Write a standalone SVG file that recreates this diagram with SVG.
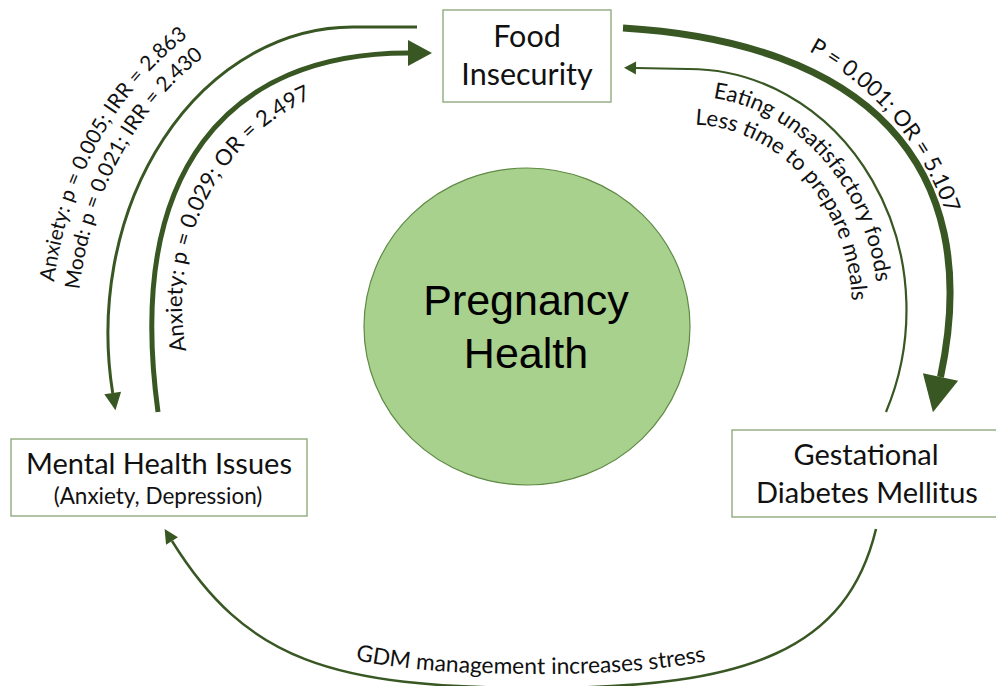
<svg xmlns="http://www.w3.org/2000/svg" width="996" height="686" viewBox="0 0 996 686">
  <style>
    .box { fill: #ffffff; stroke: #8faa7c; stroke-width: 1.4; }
    .boxtxt { font-family: Lato, "Open Sans", sans-serif; font-size: 29px; fill: #111111; text-anchor: middle; }
    .boxtxt.big { font-size: 30.5px; }
    .subtxt { font-family: Lato, "Open Sans", sans-serif; font-size: 22.5px; fill: #111111; text-anchor: middle; }
    .hub { fill: #a9d18e; stroke: #5f8a45; stroke-width: 1.2; }
    .hubtxt { font-family: "Liberation Sans", Arial, sans-serif; font-size: 43px; fill: #000000; text-anchor: middle; }
    .link { fill: none; stroke: #385723; stroke-linecap: butt; }
    .lbl { font-family: Lato, "Open Sans", sans-serif; font-size: 22.2px; fill: #111111; }
    .lbl.sm { font-size: 20.8px; }
    .lbl.lg { font-size: 22.8px; }
    .ah { fill: #385723; }
  </style>
  <defs>
    <marker id="ahSmall" markerUnits="userSpaceOnUse" markerWidth="1" markerHeight="1" refX="0" refY="0" orient="auto" overflow="visible">
      <path class="ah" d="M0,-8.5 L17.5,0 L0,8.5 Z"/>
    </marker>
    <marker id="ahMedium" markerUnits="userSpaceOnUse" markerWidth="1" markerHeight="1" refX="0" refY="0" orient="auto" overflow="visible">
      <path class="ah" d="M0,-13 L24,0 L0,13 Z"/>
    </marker>
    <marker id="ahLarge" markerUnits="userSpaceOnUse" markerWidth="1" markerHeight="1" refX="0" refY="0" orient="auto" overflow="visible">
      <path class="ah" d="M0,-18 L36,0 L0,18 Z"/>
    </marker>
    <marker id="ahThin" markerUnits="userSpaceOnUse" markerWidth="1" markerHeight="1" refX="0" refY="0" orient="auto" overflow="visible">
      <path class="ah" d="M0,-6.5 L12,0 L0,6.5 Z"/>
    </marker>
    <marker id="ahBottom" markerUnits="userSpaceOnUse" markerWidth="1" markerHeight="1" refX="0" refY="0" orient="auto" overflow="visible">
      <path class="ah" d="M0,-7 L14,0 L0,7 Z"/>
    </marker>

    <!-- baselines for the curved labels -->
    <path id="lblOuter1" d="M79.3,482.6 A302,354 0 0 1 379.3,-19.7"/>
    <path id="lblOuter2" d="M102.9,471.6 A276,328 0 0 1 377.1,6.2"/>
    <path id="lblInner" d="M221.2,435.5 A205,222 0 0 1 401.3,83.5"/>
    <path id="lblRightOut" d="M633,23.1 A282,291 0 0 1 950.5,392.2"/>
    <path id="lblRightIn1" d="M573.7,139.1 A190,214 0 0 1 847.3,426.6"/>
    <path id="lblRightIn2" d="M590,162.2 A163,184 0 0 1 824.7,410.2"/>
    <path id="lblBottom" d="M172,527 C246,646 330,674 540,674 C750,674 847.2,635 876,515"/>
  </defs>

  <rect width="996" height="686" fill="#ffffff"/>

  <!-- central hub -->
  <g id="node-pregnancy-health">
    <ellipse class="hub" cx="527" cy="326.5" rx="163" ry="158.5"/>
    <text class="hubtxt" x="526" y="315">Pregnancy</text>
    <text class="hubtxt" x="526" y="368">Health</text>
  </g>

  <!-- outer nodes -->
  <g id="node-food-insecurity">
    <rect class="box" x="443" y="10" width="168" height="92"/>
    <text class="boxtxt big" x="527" y="47">Food</text>
    <text class="boxtxt big" x="527" y="85">Insecurity</text>
  </g>

  <g id="node-mental-health">
    <rect class="box" x="11" y="439" width="296" height="77"/>
    <text class="boxtxt" x="159" y="474">Mental Health Issues</text>
    <text class="subtxt" x="158" y="504">(Anxiety, Depression)</text>
  </g>

  <g id="node-gdm">
    <rect class="box" x="732" y="430" width="272" height="87"/>
    <text class="boxtxt" x="866" y="465">Gestational</text>
    <text class="boxtxt" x="867" y="503">Diabetes Mellitus</text>
  </g>

  <!-- connectors and their labels -->
  <g id="connectors">
    <!-- food insecurity -> mental health -->
    <path class="link" stroke-width="3" d="M417,27 L353,27 A245,306 0 0 0 112.7,393" marker-end="url(#ahSmall)"/>
    <!-- mental health -> food insecurity -->
    <path class="link" stroke-width="5" d="M158,412 C125,170 228,53 408,53" marker-end="url(#ahMedium)"/>
    <!-- food insecurity -> GDM -->
    <path class="link" stroke-width="7" d="M623,28 C863,42.4 986.7,161.4 940.5,377" marker-end="url(#ahLarge)"/>
    <!-- GDM -> food insecurity -->
    <path class="link" stroke-width="2.2" d="M886,412 A218,241 0 0 0 688,69 L636,68" marker-end="url(#ahThin)"/>
    <!-- GDM -> mental health -->
    <path class="link" stroke-width="2.5" d="M876,529 C847.2,649 750,688 540,688 C330,688 246,660 172,541" marker-end="url(#ahBottom)"/>

    <text class="lbl sm"><textPath href="#lblOuter1" startOffset="50%" text-anchor="middle">Anxiety: p = 0.005; IRR = 2.863</textPath></text>
    <text class="lbl sm"><textPath href="#lblOuter2" startOffset="50%" text-anchor="middle">Mood: p = 0.021; IRR = 2.430</textPath></text>
    <text class="lbl"><textPath href="#lblInner" startOffset="50%" text-anchor="middle">Anxiety: p = 0.029; OR = 2.497</textPath></text>
    <text class="lbl"><textPath href="#lblRightOut" startOffset="50%" text-anchor="middle">P = 0.001; OR = 5.107</textPath></text>
    <text class="lbl"><textPath href="#lblRightIn1" startOffset="50%" text-anchor="middle">Eating unsatisfactory foods</textPath></text>
    <text class="lbl"><textPath href="#lblRightIn2" startOffset="50%" text-anchor="middle">Less time to prepare meals</textPath></text>
    <text class="lbl lg"><textPath href="#lblBottom" startOffset="410" text-anchor="middle">GDM management increases stress</textPath></text>
  </g>
</svg>
